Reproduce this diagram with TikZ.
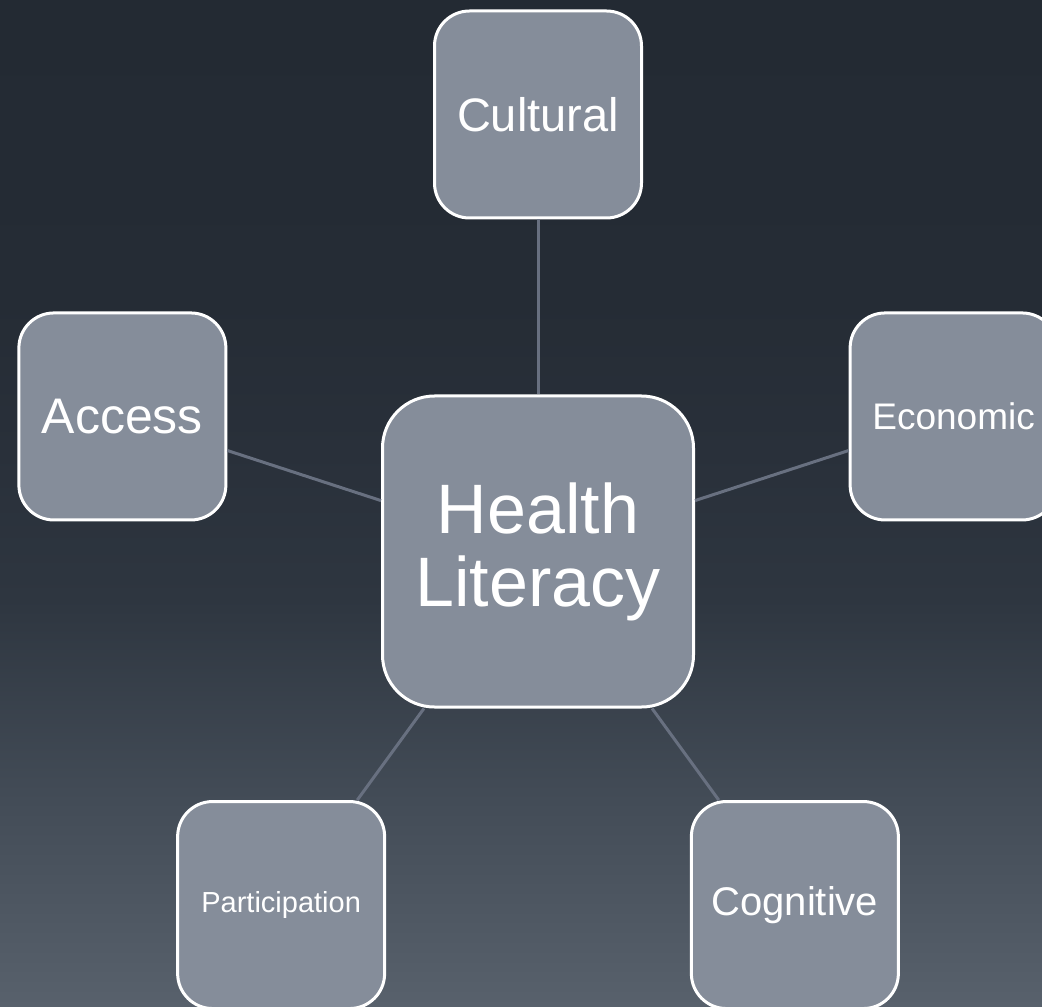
\documentclass[tikz,border=0pt]{standalone}
\usepackage{fontspec}
\setmainfont{Liberation Sans}
\usepackage{tikz}
\usetikzlibrary{positioning}
\usepackage{xcolor}

\definecolor{bgtop}{HTML}{232A33}
\definecolor{bgupper}{HTML}{252C35}
\definecolor{bgmid}{HTML}{29303A}
\definecolor{bglower}{HTML}{2E3640}
\definecolor{bgdeep}{HTML}{434C57}
\definecolor{bgbot}{HTML}{58616C}
\definecolor{boxfill}{HTML}{858D9A}
\definecolor{linkgray}{HTML}{687080}

\pgfdeclareverticalshading{slidefade}{100bp}{color(0bp)=(bgbot); color(25bp)=(bgbot);
    color(35.2bp)=(bgdeep); color(45.2bp)=(bglower); color(52.6bp)=(bgmid);
    color(60.1bp)=(bgupper); color(75bp)=(bgtop); color(100bp)=(bgtop)}

\begin{document}
\begin{tikzpicture}[
    x=0.5pt, y=0.5pt,
    topic/.style={rectangle, draw=white, line width=1.5pt, fill=boxfill, rounded corners=17.5pt,
        minimum width=103.5pt, minimum height=103.5pt, inner sep=0pt, align=center, text=white},
    hub/.style={topic, rounded corners=26pt, minimum width=155.5pt, minimum height=155.5pt},
    link/.style={draw=linkgray, line width=1.5pt},
]
    % background
    \shade[shading=slidefade] (-538,-454.5) rectangle (504,551.5);
    \useasboundingbox (-538,-454.5) rectangle (504,551.5);
    \clip (-538,-454.5) rectangle (504,551.5);

    \node[hub, font=\fontsize{35}{36.5}\selectfont] (health) at (0,0) {Health\\Literacy};
    \node[topic, font=\fontsize{23.5}{26}\selectfont] (cultural) at (90:437) {Cultural};
    \node[topic, font=\fontsize{18.5}{21}\selectfont] (economic) at (18:437) {Economic};
    \node[topic, font=\fontsize{20}{22}\selectfont] (cognitive) at (-54:437) {Cognitive};
    \node[topic, font=\fontsize{14.5}{17}\selectfont] (participation) at (234:437) {Participation};
    \node[topic, font=\fontsize{25}{28}\selectfont] (access) at (162:437) {Access};

    \draw[link] (health) -- (cultural);
    \draw[link] (health) -- (economic);
    \draw[link] (health) -- (cognitive);
    \draw[link] (health) -- (participation);
    \draw[link] (health) -- (access);
\end{tikzpicture}
\end{document}
